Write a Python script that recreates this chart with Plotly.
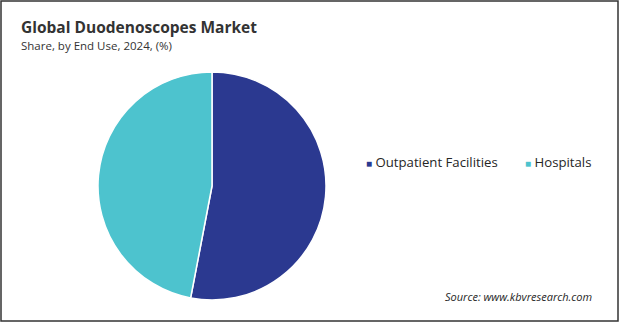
import plotly.graph_objects as go

labels = ["Outpatient Facilities", "Hospitals"]
values = [53, 47]
colors = ["#2B3990", "#4DC3CE"]

W, H = 619, 322

fig = go.Figure()
fig.add_trace(go.Pie(
    labels=labels, values=values, sort=False, direction="clockwise", rotation=0,
    marker=dict(colors=colors, line=dict(color="white", width=1.5)),
    textinfo="none", hoverinfo="label+percent", showlegend=False,
    domain=dict(x=[98 / W, 326 / W], y=[1 - 300 / H, 1 - 72 / H]),
))

# custom compact legend built from labels/colors
legend_x = [364, 523]
annotations = []
for lab, col, lx in zip(labels, colors, legend_x):
    annotations.append(dict(
        text=f"<span style='color:{col}; font-size:10px'>■</span> {lab}",
        x=lx / W, y=1 - 162 / H, xref="paper", yref="paper", xanchor="left", yanchor="middle",
        showarrow=False, font=dict(size=13.2, color="#262626")))

annotations += [
    dict(text="<b>Global Duodenoscopes Market</b>", x=19 / W, y=1 - 27 / H, xref="paper", yref="paper",
         xanchor="left", yanchor="middle", showarrow=False, font=dict(size=15.5, color="#333333")),
    dict(text="Share, by End Use, 2024, (%)", x=19 / W, y=1 - 46 / H, xref="paper", yref="paper",
         xanchor="left", yanchor="middle", showarrow=False, font=dict(size=11.5, color="#333333")),
    dict(text="<i>Source: www.kbvresearch.com</i>", x=594 / W, y=1 - 296 / H, xref="paper", yref="paper",
         xanchor="right", yanchor="middle", showarrow=False, font=dict(size=11, color="#262626")),
]

fig.update_layout(
    width=W, height=H,
    margin=dict(l=0, r=0, t=0, b=0),
    paper_bgcolor="white", plot_bgcolor="white",
    font=dict(family="Open Sans, Noto Sans, sans-serif", color="#262626"),
    showlegend=False,
    annotations=annotations,
    shapes=[dict(type="rect", xref="paper", yref="paper", x0=1 / W, y0=1 / H, x1=1 - 1 / W, y1=1 - 1 / H,
                 line=dict(color="#333333", width=1.5))],
)

fig.write_html("out.html")
